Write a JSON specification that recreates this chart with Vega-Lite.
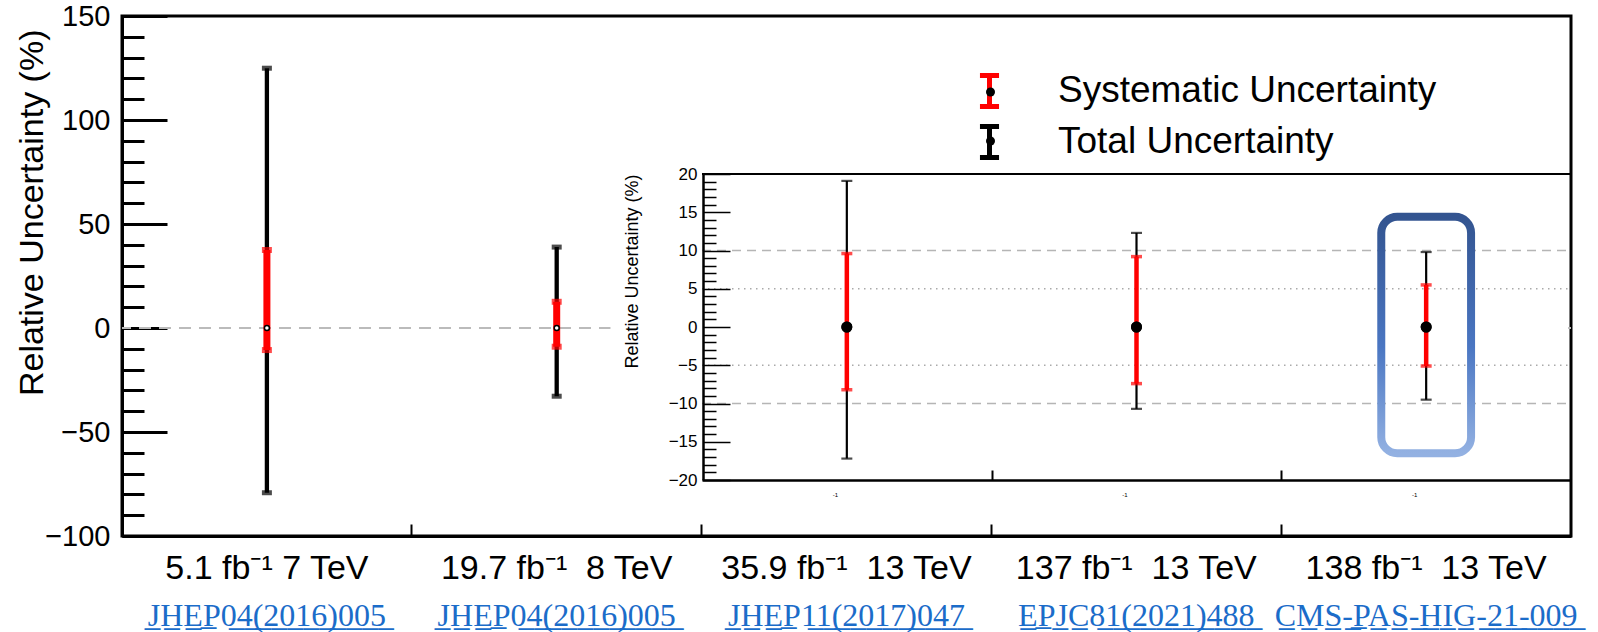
{
  "$schema": "https://vega.github.io/schema/vega-lite/v6.json",
  "width": 1449,
  "height": 520,
  "autosize": {"type": "none"},
  "padding": {"left": 122, "top": 16, "right": 27, "bottom": 96},
  "background": "white",
  "config": {
    "view": {"stroke": "black", "strokeWidth": 3},
    "font": "Liberation Sans",
    "axis": {"grid": false, "labelColor": "black", "titleColor": "black", "domainColor": "black", "tickColor": "black", "labelFont": "Liberation Sans", "titleFont": "Liberation Sans", "titleFontWeight": "normal", "labelOverlap": false, "labelFlush": false}
  },
  "datasets": {
    "unc": [
      {"n": 1, "label": "5.1 fb\u207b\u00b9 7 TeV", "type": "Systematic Uncertainty", "lo": -10.6, "hi": 37.5},
      {"n": 1, "label": "5.1 fb\u207b\u00b9 7 TeV", "type": "Total Uncertainty", "lo": -79.2, "hi": 124.9},
      {"n": 2, "label": "19.7 fb\u207b\u00b9\u00a0 8 TeV", "type": "Systematic Uncertainty", "lo": -9.0, "hi": 12.6},
      {"n": 2, "label": "19.7 fb\u207b\u00b9\u00a0 8 TeV", "type": "Total Uncertainty", "lo": -32.8, "hi": 38.9},
      {"n": 3, "label": "35.9 fb\u207b\u00b9\u00a0 13 TeV", "type": "Systematic Uncertainty", "lo": -8.2, "hi": 9.6},
      {"n": 3, "label": "35.9 fb\u207b\u00b9\u00a0 13 TeV", "type": "Total Uncertainty", "lo": -17.2, "hi": 19.1},
      {"n": 4, "label": "137 fb\u207b\u00b9\u00a0 13 TeV", "type": "Systematic Uncertainty", "lo": -7.4, "hi": 9.2},
      {"n": 4, "label": "137 fb\u207b\u00b9\u00a0 13 TeV", "type": "Total Uncertainty", "lo": -10.7, "hi": 12.3},
      {"n": 5, "label": "138 fb\u207b\u00b9\u00a0 13 TeV", "type": "Systematic Uncertainty", "lo": -5.1, "hi": 5.5},
      {"n": 5, "label": "138 fb\u207b\u00b9\u00a0 13 TeV", "type": "Total Uncertainty", "lo": -9.5, "hi": 9.8}
    ]
  },
  "resolve": {"scale": {"x": "independent", "y": "independent"}, "axis": {"x": "independent", "y": "independent"}},
  "layer": [
    {
      "data": {"name": "unc"},
      "transform": [{"filter": "datum.n <= 2"}],
      "layer": [
        {
          "mark": {"type": "rule", "color": "#bbbbbb", "strokeWidth": 2, "strokeDash": [12, 8]},
          "encoding": {
            "y": {"datum": 0, "type": "quantitative",
              "scale": {"domain": [-100, 150], "nice": false, "zero": false},
              "axis": {"orient": "left", "title": "Relative Uncertainty (%)", "titleFontSize": 34, "titleAnchor": "end", "titleBaseline": "alphabetic", "titleX": -80, "titleY": 13,
                "values": [-100, -90, -80, -70, -60, -50, -40, -30, -20, -10, 0, 10, 20, 30, 40, 50, 60, 70, 80, 90, 100, 110, 120, 130, 140, 150],
                "tickCount": 500, "format": "d",
                "labelOverlap": false,
                "labelExpr": "datum.value % 50 === 0 ? datum.label : ''",
                "tickSize": {"condition": {"test": "datum.value % 50 === 0", "value": -45}, "value": -22},
                "tickWidth": 3, "domainWidth": 3, "labelFontSize": 29, "labelPadding": 57}}
          }
        },
        {
          "transform": [{"filter": "datum.type === 'Total Uncertainty'"}],
          "mark": {"type": "rule", "strokeWidth": 4.3},
          "encoding": {
            "x": {"field": "label", "type": "nominal", "sort": null,
              "scale": {"type": "band", "domain": ["5.1 fb\u207b\u00b9 7 TeV", "19.7 fb\u207b\u00b9\u00a0 8 TeV", "35.9 fb\u207b\u00b9\u00a0 13 TeV", "137 fb\u207b\u00b9\u00a0 13 TeV", "138 fb\u207b\u00b9\u00a0 13 TeV"], "paddingInner": 0, "paddingOuter": 0},
              "axis": {"orient": "bottom", "bandPosition": 0, "tickSize": -12, "tickWidth": 2, "domainWidth": 3, "labelFontSize": 34, "labelPadding": 54, "labelBaseline": "alphabetic", "labelAngle": 0, "labelLimit": 600, "labelOverlap": false, "title": null}},
            "y": {"field": "lo", "type": "quantitative"},
            "y2": {"field": "hi"},
            "color": {"field": "type", "type": "nominal",
              "scale": {"domain": ["Systematic Uncertainty", "Total Uncertainty"], "range": ["#ff0000", "#000000"]},
              "legend": {"title": null, "orient": "none", "legendX": 847, "legendY": 54.5, "symbolType": "M-0.53,-0.86H0.53M0,-0.86V0.86M-0.53,0.86H0.53", "symbolSize": 1296, "symbolStrokeWidth": 5, "symbolFillColor": "transparent", "labelFontSize": 37, "labelFont": "Liberation Sans", "labelColor": "black", "labelOffset": 48, "rowPadding": 0, "padding": 0, "labelLimit": 600}}
          }
        },
        {
          "transform": [{"filter": "datum.type === 'Total Uncertainty'"}],
          "mark": {"type": "tick", "color": "black", "size": 10, "thickness": 5},
          "encoding": {"x": {"field": "label", "type": "nominal"}, "y": {"field": "hi", "type": "quantitative"}}
        },
        {
          "transform": [{"filter": "datum.type === 'Total Uncertainty'"}],
          "mark": {"type": "tick", "color": "black", "size": 10, "thickness": 5},
          "encoding": {"x": {"field": "label", "type": "nominal"}, "y": {"field": "lo", "type": "quantitative"}}
        },
        {
          "transform": [{"filter": "datum.type === 'Systematic Uncertainty'"}],
          "mark": {"type": "rule", "strokeWidth": 7},
          "encoding": {"x": {"field": "label", "type": "nominal"}, "y": {"field": "lo", "type": "quantitative"}, "y2": {"field": "hi"}, "color": {"field": "type", "type": "nominal"}}
        },
        {
          "transform": [{"filter": "datum.type === 'Systematic Uncertainty'"}],
          "mark": {"type": "tick", "color": "#ff0000", "size": 10, "thickness": 6},
          "encoding": {"x": {"field": "label", "type": "nominal"}, "y": {"field": "hi", "type": "quantitative"}}
        },
        {
          "transform": [{"filter": "datum.type === 'Systematic Uncertainty'"}],
          "mark": {"type": "tick", "color": "#ff0000", "size": 10, "thickness": 6},
          "encoding": {"x": {"field": "label", "type": "nominal"}, "y": {"field": "lo", "type": "quantitative"}}
        },
        {
          "transform": [{"filter": "datum.type === 'Total Uncertainty'"}],
          "mark": {"type": "point", "shape": "circle", "size": 25, "fill": "white", "stroke": "black", "strokeWidth": 1.5, "opacity": 1},
          "encoding": {"x": {"field": "label", "type": "nominal"}, "y": {"datum": 0, "type": "quantitative"}}
        }
      ]
    },
    {
      "data": {"values": [{"n": 1}, {"n": 2}, {"n": 3}, {"n": 4}, {"n": 5}]},
      "mark": {"type": "text", "text": ""},
      "encoding": {
        "x": {"field": "n", "type": "ordinal",
          "scale": {"type": "band", "domain": [1, 2, 3, 4, 5], "paddingInner": 0, "paddingOuter": 0},
          "axis": {"orient": "bottom", "ticks": false, "domain": false, "labelExpr": "replace(['JHEP04(2016)005', 'JHEP04(2016)005', 'JHEP11(2017)047', 'EPJC81(2021)488', 'CMS-PAS-HIG-21-009'][datum.value - 1], /(.)/g, '$1\u0332')", "labelFont": "Liberation Serif", "labelFontSize": 32, "labelColor": "#1b6cc9", "labelPadding": 89, "labelBaseline": "alphabetic", "labelAngle": 0, "labelLimit": 600, "labelOverlap": false, "title": null}}
      }
    },
    {
      "data": {"name": "unc"},
      "transform": [{"filter": "datum.n >= 3"}],
      "layer": [
        {
          "data": {"values": [{"part": "canvas"}]},
          "mark": {"type": "rect", "fill": "white", "stroke": null},
          "encoding": {"x": {"datum": 2.184, "type": "quantitative"}, "x2": {"datum": 5.49}, "y": {"datum": -22.5, "type": "quantitative"}, "y2": {"datum": 21.2}}
        },
        {
          "data": {"values": [{"g": 10}, {"g": -10}]},
          "mark": {"type": "rule", "color": "#b5b5b5", "strokeWidth": 1.5, "strokeDash": [9, 6]},
          "encoding": {"x": {"datum": 2.5, "type": "quantitative"}, "x2": {"datum": 5.5}, "y": {"field": "g", "type": "quantitative"}}
        },
        {
          "data": {"values": [{"g": 5}, {"g": -5}]},
          "mark": {"type": "rule", "color": "#aaaaaa", "strokeWidth": 1.5, "strokeDash": [1.5, 4.5]},
          "encoding": {"x": {"datum": 2.5, "type": "quantitative"}, "x2": {"datum": 5.5}, "y": {"field": "g", "type": "quantitative"}}
        },
        {
          "data": {"values": [{"g": 20}]},
          "mark": {"type": "rule", "color": "black", "strokeWidth": 2},
          "encoding": {"x": {"datum": 2.5, "type": "quantitative"}, "x2": {"datum": 5.5}, "y": {"field": "g", "type": "quantitative"}}
        },
        {
          "data": {"values": [{"part": "highlight"}]},
          "mark": {"type": "rect", "filled": false, "strokeWidth": 8, "cornerRadius": 16,
            "stroke": {"gradient": "linear", "x1": 0, "y1": 0, "x2": 0, "y2": 1, "stops": [{"offset": 0, "color": "#335490"}, {"offset": 0.55, "color": "#4a76c2"}, {"offset": 1, "color": "#93b1e2"}]}},
          "encoding": {"x": {"datum": 4.845, "type": "quantitative"}, "x2": {"datum": 5.155}, "y": {"datum": -16.5, "type": "quantitative"}, "y2": {"datum": 14.4}}
        },
        {
          "transform": [{"filter": "datum.type === 'Total Uncertainty'"}],
          "mark": {"type": "rule", "strokeWidth": 2.2},
          "encoding": {
            "x": {"field": "n", "type": "quantitative",
              "scale": {"domain": [2.5, 5.5], "range": [580, 1449], "nice": false, "zero": false},
              "axis": {"orient": "bottom", "offset": -56, "values": [3, 3.5, 4, 4.5, 5], "tickCount": 100, "labelOverlap": false,
                "tickOpacity": {"condition": {"test": "datum.value % 1 === 0", "value": 0}, "value": 1},
                "tickSize": -10, "tickWidth": 2, "domainWidth": 2.5,
                "labelExpr": "datum.value % 1 === 0 ? '-1' : ''", "labelFontSize": 6, "labelOffset": -12, "labelPadding": 26, "labelBaseline": "alphabetic", "title": null, "zindex": 1}},
            "y": {"field": "lo", "type": "quantitative",
              "scale": {"domain": [-20, 20], "range": [464, 158], "nice": false, "zero": false},
              "axis": {"orient": "left", "offset": -581, "labelOverlap": false, "tickCount": 500, "format": "d",
                "values": [-20, -19.5, -19, -18.5, -18, -17.5, -17, -16.5, -16, -15.5, -15, -14.5, -14, -13.5, -13, -12.5, -12, -11.5, -11, -10.5, -10, -9.5, -9, -8.5, -8, -7.5, -7, -6.5, -6, -5.5, -5, -4.5, -4, -3.5, -3, -2.5, -2, -1.5, -1, -0.5, 0, 0.5, 1, 1.5, 2, 2.5, 3, 3.5, 4, 4.5, 5, 5.5, 6, 6.5, 7, 7.5, 8, 8.5, 9, 9.5, 10, 10.5, 11, 11.5, 12, 12.5, 13, 13.5, 14, 14.5, 15, 15.5, 16, 16.5, 17, 17.5, 18, 18.5, 19, 19.5, 20],
                "labelExpr": "datum.value % 5 === 0 ? datum.label : ''",
                "tickSize": {"condition": {"test": "datum.value % 5 === 0", "value": -27}, "value": -13},
                "tickWidth": 1.5, "domainWidth": 2.5, "labelFontSize": 17, "labelPadding": 33,
                "title": "Relative Uncertainty (%)", "titleFontSize": 18, "titleAnchor": "end", "titleBaseline": "alphabetic", "titleX": -66, "titleY": 158, "zindex": 1}},
            "y2": {"field": "hi"},
            "color": {"field": "type", "type": "nominal"}
          }
        },
        {
          "transform": [{"filter": "datum.type === 'Total Uncertainty'"}],
          "mark": {"type": "tick", "orient": "horizontal", "color": "black", "size": 11, "thickness": 2.2},
          "encoding": {"x": {"field": "n", "type": "quantitative"}, "y": {"field": "hi", "type": "quantitative"}}
        },
        {
          "transform": [{"filter": "datum.type === 'Total Uncertainty'"}],
          "mark": {"type": "tick", "orient": "horizontal", "color": "black", "size": 11, "thickness": 2.2},
          "encoding": {"x": {"field": "n", "type": "quantitative"}, "y": {"field": "lo", "type": "quantitative"}}
        },
        {
          "transform": [{"filter": "datum.type === 'Systematic Uncertainty'"}],
          "mark": {"type": "rule", "strokeWidth": 4.5},
          "encoding": {"x": {"field": "n", "type": "quantitative"}, "y": {"field": "lo", "type": "quantitative"}, "y2": {"field": "hi"}, "color": {"field": "type", "type": "nominal"}}
        },
        {
          "transform": [{"filter": "datum.type === 'Systematic Uncertainty'"}],
          "mark": {"type": "tick", "orient": "horizontal", "color": "#ff0000", "size": 11, "thickness": 3.5},
          "encoding": {"x": {"field": "n", "type": "quantitative"}, "y": {"field": "hi", "type": "quantitative"}}
        },
        {
          "transform": [{"filter": "datum.type === 'Systematic Uncertainty'"}],
          "mark": {"type": "tick", "orient": "horizontal", "color": "#ff0000", "size": 11, "thickness": 3.5},
          "encoding": {"x": {"field": "n", "type": "quantitative"}, "y": {"field": "lo", "type": "quantitative"}}
        },
        {
          "mark": {"type": "point", "filled": true, "color": "black", "size": 121, "opacity": 1},
          "encoding": {
            "x": {"field": "n", "type": "quantitative"},
            "y": {"datum": 0, "type": "quantitative"},
            "shape": {"field": "type", "type": "nominal",
              "scale": {"domain": ["Total Uncertainty", "Systematic Uncertainty"], "range": ["circle", "circle"]},
              "legend": {"title": null, "orient": "none", "legendX": 864, "legendY": 71.5, "values": ["Systematic Uncertainty", "Total Uncertainty"], "symbolSize": 81, "symbolFillColor": "black", "symbolStrokeColor": "black", "symbolStrokeWidth": 0, "labelExpr": "''", "labelFontSize": 1, "labelOffset": 0, "rowPadding": 40, "padding": 0, "zindex": 1}}
          }
        }
      ]
    }
  ]
}
